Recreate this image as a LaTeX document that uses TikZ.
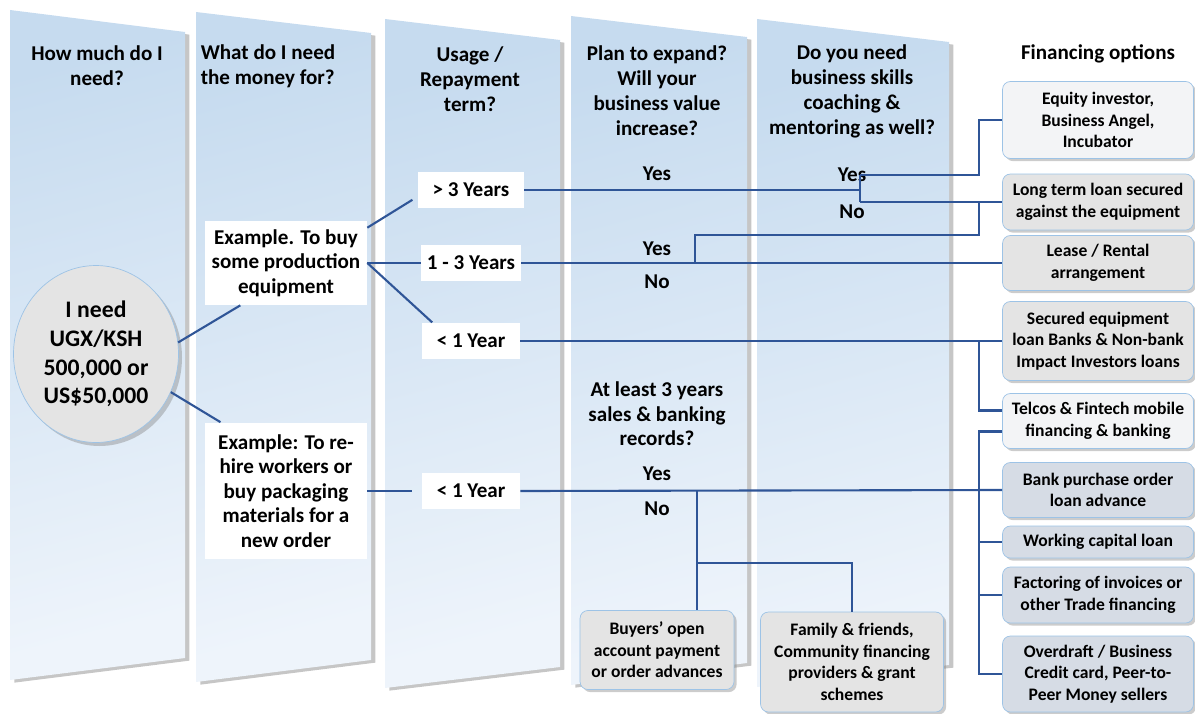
\documentclass[tikz,border=0pt]{standalone}
\usepackage{fontspec}
\setmainfont{Carlito}
\usetikzlibrary{shapes.geometric,shadows}
\definecolor{pnltop}{HTML}{C6DBEF}
\definecolor{pnlmid}{HTML}{B3CFEA}
\definecolor{pnlbot}{HTML}{EEF4FB}
\definecolor{linkblue}{HTML}{2F5597}
\definecolor{edgeblue}{HTML}{9DC3E6}
\definecolor{optgrey}{HTML}{E4E4E4}
\definecolor{optpale}{HTML}{F3F4F6}
\definecolor{optblue}{HTML}{D6DCE5}

\begin{document}
\begin{tikzpicture}[x=0.02cm,y=-0.02cm,
	panel/.style = {top color=pnltop,middle color=pnlmid,bottom color=pnlbot,shading angle=15,
		drop shadow={shadow xshift=2.5pt,shadow yshift=-1.5pt,opacity=.45}},
	head/.style = {align=center,font=\fontsize{12}{14.2}\selectfont\bfseries},
	answer/.style = {align=center,font=\fontsize{12}{14}\selectfont\bfseries},
	need/.style = {ellipse,draw=edgeblue,fill=optgrey,minimum width=3.3cm,minimum height=3.54cm,inner sep=0pt,
		align=center,font=\fontsize{13.5}{16.4}\selectfont\bfseries,
		drop shadow={shadow xshift=2pt,shadow yshift=-2pt,opacity=.4}},
	example/.style = {fill=white,minimum width=3.24cm,align=center,font=\fontsize{12}{14}\selectfont\bfseries},
	term/.style = {fill=white,minimum width=1.96cm,minimum height=.73cm,font=\fontsize{12}{14}\selectfont\bfseries},
	option/.style = {draw=edgeblue,rounded corners=4.5pt,minimum width=3.82cm,align=center,inner sep=1pt,
		font=\fontsize{10}{12.2}\selectfont\bfseries,
		drop shadow={shadow xshift=1.5pt,shadow yshift=-1.5pt,opacity=.4}},
	link/.style = {draw=linkblue,line width=1.2pt}]
	\useasboundingbox (0,0) rectangle (1195,713);
	
	\path[panel] (10,10) -- (185,32) -- (185,658) -- (10,680) -- cycle;
	\path[panel] (196,12) -- (371,33) -- (371,660) -- (196,682) -- cycle;
	\path[panel] (385,19) -- (560,40) -- (560,667) -- (385,688) -- cycle;
	\path[panel] (571,16) -- (747,37) -- (747,663) -- (571,685) -- cycle;
	\path[panel] (757,19) -- (949,42) -- (949,665) -- (757,687) -- cycle;
	
	\node[head] (hdA) at (97,66) {How much do I\\need?};
	\node[head,align=left] (hdB) at (268,66) {What do I need\\the money for?};
	\node[head] (hdC) at (470,79) {Usage /\\Repayment\\term?};
	\node[head] (hdD) at (657,91) {Plan to expand?\\Will your\\business value\\increase?};
	\node[head] (hdE) at (852,91) {Do you need\\business skills\\coaching \&\\mentoring as well?};
	\node[head] (hdF) at (1098,54) {Financing options};
	
	\node[need] (need) at (96,354) {I need\\UGX/KSH\\500,000 or\\US\$50,000};
	
	\node[example,minimum height=1.68cm] (buyEq) at (286,263) {Example. To buy\\some production\\equipment};
	\node[example,minimum height=2.74cm] (hire) at (286,491) {Example: To re-\\hire workers or\\buy packaging\\materials for a\\new order};
	
	\node[term,minimum width=2.12cm] (long) at (471,190) {> 3 Years};
	\node[term] (mid) at (471,263) {1 - 3 Years};
	\node[term] (shortA) at (471,341) {< 1 Year};
	\node[term] (shortB) at (471,491) {< 1 Year};
	
	\node[answer] (yesA) at (657,174) {Yes};
	\node[answer] (yesB) at (657,249) {Yes};
	\node[answer] (noB) at (657,282) {No};
	\node[answer] (recs) at (657,414) {At least 3 years\\sales \& banking\\records?};
	\node[answer] (yesC) at (657,474) {Yes};
	\node[answer] (noC) at (657,509) {No};
	\node[answer] (yesSk) at (852,175) {Yes};
	\node[answer] (noSk) at (852,212) {No};
	
	\node[option,fill=optpale,minimum height=1.54cm] (equity) at (1098,120) {Equity investor,\\Business Angel,\\Incubator};
	\node[option,fill=optgrey,minimum height=1.12cm] (secLoan) at (1098,202) {Long term loan secured\\against the equipment};
	\node[option,fill=optgrey,minimum height=1.1cm] (lease) at (1098,263) {Lease / Rental\\arrangement};
	\node[option,fill=optgrey,minimum height=1.58cm] (eqLoan) at (1098,341) {Secured equipment\\loan Banks \& Non-bank\\Impact Investors loans};
	\node[option,fill=optpale,minimum height=1.1cm] (telco) at (1098,421) {Telcos \& Fintech mobile\\financing \& banking};
	\node[option,fill=optblue,minimum height=1.1cm] (bankPO) at (1098,490) {Bank purchase order\\loan advance};
	\node[option,fill=optblue,minimum height=.64cm] (wcLoan) at (1098,542) {Working capital loan};
	\node[option,fill=optblue,minimum height=1.12cm] (factor) at (1098,595) {Factoring of invoices or\\other Trade financing};
	\node[option,fill=optblue,minimum height=1.52cm] (overdraft) at (1098,674) {Overdraft / Business\\Credit card, Peer-to-\\Peer Money sellers};
	\node[option,fill=optgrey,minimum width=3.08cm,minimum height=1.58cm] (buyers) at (657,650) {Buyers’ open\\account payment\\or order advances};
	\node[option,fill=optgrey,minimum width=3.66cm,minimum height=2cm] (family) at (852,662) {Family \& friends,\\Community financing\\providers \& grant\\schemes};
	
	\coordinate (skill) at (860,175);
	\coordinate (noSkill) at (860,202);
	\coordinate (bus) at (979,0);
	\coordinate (grow) at (695,235);
	\coordinate (split) at (697,563);
	
	\draw[link] (need.8) -- ([xshift=-26pt]buyEq.south);
	\draw[link] (need.-27) -- ([xshift=9pt]hire.north west);
	\draw[link] ([yshift=-4pt]buyEq.north east) -- ([xshift=-3pt,yshift=5pt]long.south west);
	\draw[link] (buyEq.east) -- (mid.west);
	\draw[link] (buyEq.east) -- ([xshift=6pt]shortA.north west);
	\draw[link,shorten >=5.5pt] (hire.east) -- (shortB.west);
	
	\draw[link] (long.east) -- (long.east -| skill);
	\draw[link] (skill) -- (noSkill);
	\draw[link] (skill) -| (bus |- equity.west) -- (equity.west);
	\draw[link] (noSkill) -- (secLoan.west);
	\draw[link] (mid.east) -- (lease.west);
	\draw[link] (mid.east -| grow) -- (grow) -| (bus |- secLoan.west);
	\draw[link] (shortA.east) -- (eqLoan.west);
	\draw[link] (shortA.east -| bus) |- ([yshift=6pt]telco.west);
	\draw[link] (shortB.east) -- (bankPO.west);
	\draw[link] ([yshift=-6pt]telco.west) -| (bus |- overdraft.west) -- (overdraft.west);
	\draw[link] (bus |- wcLoan.west) -- (wcLoan.west);
	\draw[link] (bus |- factor.west) -- (factor.west);
	\draw[link] (shortB.east -| split) -- (buyers.north -| split);
	\draw[link] (split) -| (family.north);
\end{tikzpicture}
\end{document}
